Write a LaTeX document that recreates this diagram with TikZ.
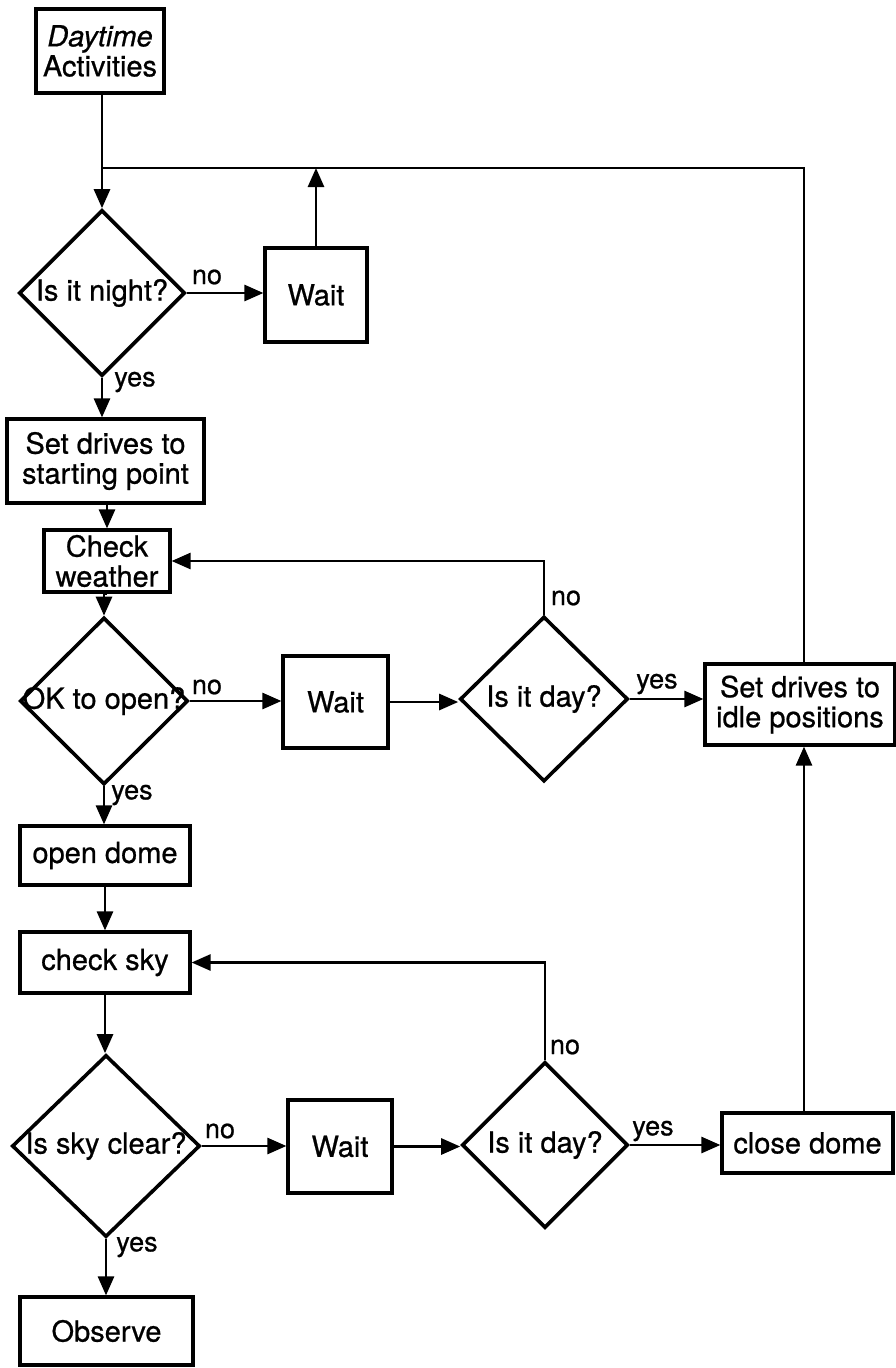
\documentclass[tikz,border=0pt]{standalone}
\usepackage{fontspec}
\setmainfont{TeX Gyre Heros}[FakeBold=0.7]
\usetikzlibrary{arrows.meta,shapes.geometric}
\tikzset{
  box/.style={draw, line width=3.2pt, rectangle, inner sep=0pt, align=center,
    font=\fontsize{29}{30}\selectfont},
  dia/.style={draw, line width=3.6pt, diamond, inner sep=0pt},
  dtext/.style={inner sep=0pt, font=\fontsize{29}{30}\selectfont},
  lbl/.style={inner sep=0pt, font=\fontsize{27}{28}\selectfont},
  conn/.style={line width=2.7pt},
  arr/.style={conn, -{Triangle[length=19pt,width=16pt]}}
}
\begin{document}
\begin{tikzpicture}[x=1pt,y=-1pt]
\fill[white] (0,0) rectangle (896,1368);
\useasboundingbox (0,0) rectangle (896,1368);

% nodes
\node[box, minimum width=128pt, minimum height=84pt] (day) at (100,51) {\textit{Daytime}\\Activities};
\node[dia, minimum width=166pt, minimum height=166pt] (d1) at (102,293) {};
\node[dtext] (d1t) at (d1.center) {Is it night?};
\node[box, minimum width=102pt, minimum height=94pt] (wait1) at (316,295) {Wait};
\node[box, minimum width=197pt, minimum height=84pt] (setd) at (105.5,461) {Set drives to\\starting point};
\node[box, minimum width=126pt, minimum height=62pt] (chkw) at (107,561) {Check\\weather};
\node[dia, minimum width=168pt, minimum height=167pt] (d2) at (104,701) {};
\node[dtext] (d2t) at (d2.center) {OK to open?};
\node[box, minimum width=105pt, minimum height=92pt] (wait2) at (335.5,702) {Wait};
\node[dia, minimum width=168pt, minimum height=165pt] (day1) at (544,699) {};
\node[dtext] (day1t) at (day1.center) {Is it day?};
\node[box, minimum width=190pt, minimum height=81pt] (idle) at (800,704.5) {Set drives to\\idle positions};
\node[box, minimum width=170pt, minimum height=59pt] (open) at (105,855.5) {open dome};
\node[box, minimum width=170pt, minimum height=61pt] (sky) at (105,962.5) {check sky};
\node[dia, minimum width=188pt, minimum height=182pt] (d3) at (106,1146) {};
\node[dtext] (d3t) at (d3.center) {Is sky clear?};
\node[box, minimum width=104pt, minimum height=93pt] (wait3) at (340,1146.5) {Wait};
\node[dia, minimum width=166pt, minimum height=166pt] (day2) at (545,1145) {};
\node[dtext] (day2t) at (day2.center) {Is it day?};
\node[box, minimum width=171pt, minimum height=60pt] (close) at (807.5,1143) {close dome};
\node[box, minimum width=173pt, minimum height=68pt] (obs) at (106.5,1331) {Observe};

\coordinate (topline) at (804,168);

% connectors
\draw[arr] (day.south -| d1.north) -- (d1.north);
\draw[conn] (idle.north -| topline) -- (topline) -- (topline -| d1.north);
\draw[arr] (wait1.north) -- (wait1.north |- topline);
\draw[arr] (d1.east) -- (d1.east -| wait1.west);
\draw[arr] (d1.south) -- (d1.south |- setd.north);
\draw[arr] (setd.south -| chkw.north) -- (chkw.north);
\draw[arr] (chkw.south) -- (chkw.south -| d2.north) -- (d2.north);
\draw[arr] (d2.east) -- (d2.east -| wait2.west);
\draw[arr] (wait2.east) -- (wait2.east -| day1.west);
\draw[arr] (day1.east) -- (day1.east -| idle.west);
\draw[arr] (day1.north) |- (chkw.east);
\draw[arr] (d2.south) -- (d2.south |- open.north);
\draw[arr] (open.south) -- (sky.north);
\draw[arr] (sky.south) -- (sky.south |- d3.north);
\draw[arr] (d3.east) -- (d3.east -| wait3.west);
\draw[arr] (wait3.east) -- (wait3.east -| day2.west);
\draw[arr] (day2.east) -- (day2.east -| close.west);
\draw[arr] (day2.north) |- (sky.east);
\draw[arr] (close.north -| topline) -- (idle.south -| topline);
\draw[arr] (d3.south) -- (d3.south |- obs.north);

% labels
\node[lbl] (l1) at (207,277) {no};
\node[lbl] (l2) at (135,382) {yes};
\node[lbl] (l3) at (566,598) {no};
\node[lbl] (l4) at (207,687) {no};
\node[lbl] (l5) at (657,684) {yes};
\node[lbl] (l6) at (132,795) {yes};
\node[lbl] (l7) at (565,1047) {no};
\node[lbl] (l8) at (220,1131) {no};
\node[lbl] (l9) at (653,1131) {yes};
\node[lbl] (l10) at (137,1247) {yes};
\end{tikzpicture}
\end{document}
